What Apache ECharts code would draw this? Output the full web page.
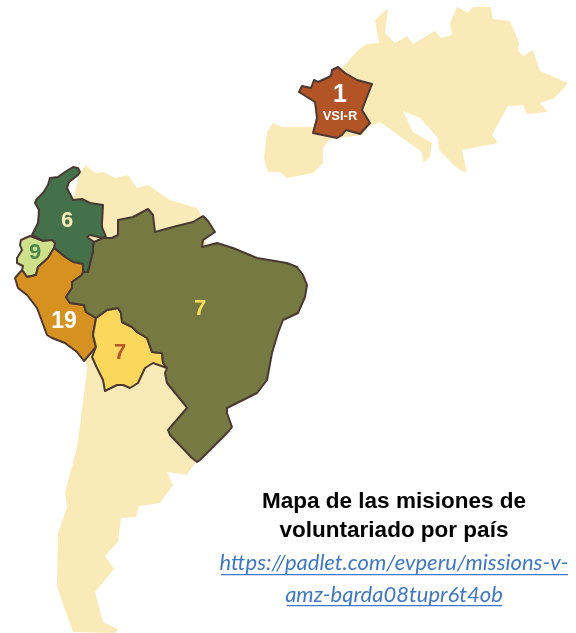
<!DOCTYPE html>
<html>
<head>
<meta charset="utf-8">
<title>Mapa de las misiones</title>
<script src="https://cdn.jsdelivr.net/npm/echarts@6/dist/echarts.min.js"></script>
<style>
  html, body { margin: 0; padding: 0; background: #fff; }
  #chart { width: 576px; height: 633px; }
</style>
</head>
<body>
<div id="chart"></div>
<script>
// values shown on the map
const countries = ['Colombia', 'Ecuador', 'Perú', 'Bolivia', 'Brasil', 'Francia'];
const missions = [6, 9, 19, 7, 7, 1];
const franceTag = 'VSI-R';

const headingLines = ['Mapa de las misiones de', 'voluntariado por país'];
const linkLines = ['https://padlet.com/evperu/missions-v-', 'amz-bqrda08tupr6t4ob'];
const linkUrl = 'https://padlet.com/evperu/missions-v-amz-bqrda08tupr6t4ob';

// outlines
const landSouth = [[86,165],[95,173],[103,172],[115,178],[128,175],[137,188],[148,185],[170,200],[197,208],[202,217],[215,300],[195,463],[187,475],[167,472],[173,485],[160,503],[139,506],[136,517],[121,518],[118,542],[105,556],[114,569],[95,592],[103,622],[118,629],[115,633],[73,632],[57,587],[58,533],[67,507],[65,492],[77,448],[87,370],[85,355],[60,250],[80,172]];
const landEurope = [[343,67],[358,50],[367,44],[379,43],[375,20],[388,8],[385,33],[395,43],[407,36],[413,44],[435,31],[441,38],[452,35],[450,23],[457,7],[468,13],[473,7],[491,7],[493,19],[510,21],[519,43],[518,50],[523,56],[533,50],[540,71],[568,83],[555,98],[540,103],[548,112],[527,114],[523,105],[508,106],[492,135],[498,143],[462,150],[467,173],[457,168],[439,150],[438,138],[420,118],[403,111],[413,132],[432,143],[430,157],[423,163],[422,152],[380,122],[368,127],[363,135],[330,139],[323,148],[323,163],[313,173],[287,178],[280,172],[268,172],[264,158],[267,132],[273,123],[282,127],[313,127]];
const colombia = [[80,172],[78,168],[73,167],[65,172],[58,177],[50,178],[48,185],[43,193],[36,200],[35,203],[39,210],[38,223],[32,235],[43,241],[52,240],[55,243],[54,248],[65,257],[73,262],[83,264],[83,272],[88,272],[93,252],[93,247],[94,242],[87,237],[90,235],[103,238],[106,237],[102,227],[102,223],[103,205],[90,203],[82,199],[73,200],[67,188],[69,182],[78,175]];
const ecuador = [[21,240],[30,236],[38,239],[43,241],[52,240],[55,243],[54,248],[48,258],[38,267],[36,275],[27,277],[22,270],[23,266],[17,263],[17,258],[22,250],[20,245]];
const peru = [[22,270],[27,277],[36,275],[38,267],[48,258],[54,248],[65,257],[73,262],[83,264],[83,272],[82,275],[72,282],[72,288],[66,297],[70,303],[84,305],[86,312],[96,318],[93,335],[96,347],[84,361],[77,352],[65,343],[52,338],[47,335],[37,308],[27,295],[18,288],[15,278]];
const bolivia = [[96,318],[107,310],[118,308],[121,313],[122,322],[132,327],[137,332],[147,338],[152,352],[162,353],[163,363],[167,368],[153,363],[145,368],[138,383],[130,388],[123,385],[117,385],[105,391],[103,380],[97,368],[92,357],[96,347],[93,335]];
const brazil = [[94,242],[103,238],[112,238],[118,235],[118,220],[133,217],[148,209],[153,215],[155,232],[173,227],[193,222],[203,216],[208,221],[215,232],[203,240],[202,247],[217,243],[233,248],[257,258],[287,263],[297,267],[303,275],[307,285],[305,297],[298,313],[283,320],[278,333],[272,353],[267,380],[257,393],[227,408],[227,413],[232,427],[228,432],[200,460],[197,462],[192,458],[170,435],[168,430],[187,408],[185,405],[167,383],[165,373],[167,368],[163,363],[162,353],[152,352],[147,338],[137,332],[132,327],[122,322],[121,313],[118,308],[107,310],[96,318],[86,312],[84,305],[70,303],[66,297],[72,288],[72,282],[82,275],[83,272],[88,272],[93,252],[93,247]];
const france = [[338,67],[332,70],[331,76],[318,82],[314,80],[311,88],[302,86],[299,92],[315,102],[317,118],[313,133],[337,138],[342,135],[346,130],[360,134],[370,123],[362,110],[365,102],[372,84],[357,80],[345,73]];

const countryShapes = [colombia, ecuador, peru, bolivia, brazil, france];
const labelSpots = [[67,221],[35,253],[64,322],[120,353],[200,309],[340,103]];
const fills = ['#44704a', '#cfe08a', '#d69120', '#fbd75c', '#767a42', '#b25426'];
const labelColors = ['#f6edb8', '#4e8a50', '#ffffff', '#b8552a', '#fdd95a', '#ffffff'];
const LAND = '#faeab7';
const BORDER = '#4a3833';

function feature(name, outline, cp) {
    return {
        type: 'Feature',
        properties: cp ? { name: name, cp: cp } : { name: name },
        geometry: { type: 'Polygon', coordinates: [outline.concat([outline[0]])] }
    };
}

const features = [feature('Sudamérica', landSouth), feature('Europa', landEurope)];
countries.forEach((c, i) => features.push(feature(c, countryShapes[i], labelSpots[i])));

echarts.registerMap('misiones', { type: 'FeatureCollection', features: features });

const regionData = [
    { name: 'Sudamérica', itemStyle: { areaColor: LAND, borderWidth: 0 } },
    { name: 'Europa', itemStyle: { areaColor: LAND, borderWidth: 0 } }
];
countries.forEach((c, i) => {
    regionData.push({
        name: c,
        value: missions[i],
        itemStyle: { areaColor: fills[i], borderColor: BORDER, borderWidth: 2, borderJoin: 'round' },
        label: {
            show: true,
            color: labelColors[i],
            fontFamily: 'Liberation Sans',
            fontWeight: 'bold',
            fontSize: c === 'Perú' ? 23 : 22,
            formatter: c === 'Francia' ? '{n|{c}}\n{t|' + franceTag + '}' : '{c}',
            rich: {
                n: { fontFamily: 'Liberation Sans', fontWeight: 'bold', fontSize: 25, color: '#fff', lineHeight: 26 },
                t: { fontFamily: 'Liberation Sans', fontWeight: 'bold', fontSize: 13, color: '#fff', lineHeight: 15 }
            }
        }
    });
});

const headingStyle = { fontFamily: 'Liberation Sans', fontWeight: 'bold', fontSize: 22.5, color: '#000' };
const linkStyle = { fontFamily: 'Lato', fontStyle: 'italic', fontWeight: 'normal', fontSize: 22, color: '#3f78c4' };

const chart = echarts.init(document.getElementById('chart'));
chart.setOption({
    animation: false,
    title: [
        { text: headingLines[0], left: 394, top: 490, textAlign: 'center', padding: 0, textStyle: headingStyle },
        { text: headingLines[1], left: 394, top: 519, textAlign: 'center', padding: 0, textStyle: headingStyle },
        { text: linkLines[0], link: linkUrl, left: 394, top: 552, textAlign: 'center', padding: 0, textStyle: linkStyle },
        { text: linkLines[1], link: linkUrl, left: 394, top: 584, textAlign: 'center', padding: 0, textStyle: linkStyle }
    ],
    series: [{
        type: 'map',
        map: 'misiones',
        projection: { project: (p) => p, unproject: (p) => p },
        boundingCoords: [[0, 0], [576, 633]],
        left: 0,
        top: 0,
        width: 576,
        height: 633,
        roam: false,
        selectedMode: false,
        emphasis: { disabled: true },
        label: { show: false },
        itemStyle: { borderWidth: 0 },
        data: regionData
    }],
    graphic: [
        { type: 'rect', shape: { x: 221, y: 574, width: 347, height: 1.3 }, style: { fill: '#3f78c4' }, silent: true },
        { type: 'rect', shape: { x: 287, y: 605, width: 215, height: 1.3 }, style: { fill: '#3f78c4' }, silent: true }
    ]
});
</script>
</body>
</html>
